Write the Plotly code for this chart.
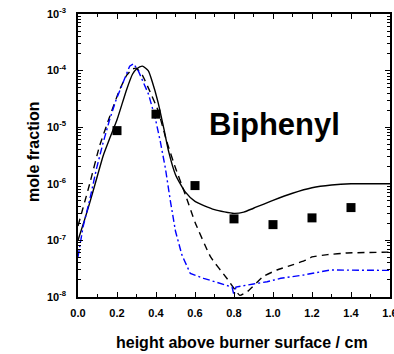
import plotly.graph_objects as go

# ---- data ----
solid_x = [0.00, 0.03, 0.06, 0.10, 0.13, 0.16, 0.20, 0.25, 0.28, 0.30, 0.33, 0.36, 0.38, 0.41, 0.44, 0.465,
           0.50, 0.55, 0.60, 0.70, 0.80, 0.85, 0.90, 1.00, 1.10, 1.20, 1.30, 1.40, 1.60]
solid_y = [1.0e-7, 2.1e-7, 4.6e-7, 1.4e-6, 3.2e-6, 6.0e-6, 1.35e-5, 4.7e-5, 8.7e-5, 1.07e-4, 1.2e-4, 1.0e-4,
           6.5e-5, 2.8e-5, 9.5e-6, 3.7e-6, 1.45e-6, 7.2e-7, 4.9e-7, 3.5e-7, 3.0e-7, 3.16e-7, 3.7e-7, 5.1e-7,
           6.8e-7, 8.5e-7, 9.5e-7, 1.0e-6, 1.0e-6]

dash_x = [0.00, 0.06, 0.11, 0.16, 0.21, 0.25, 0.28, 0.30, 0.33, 0.36, 0.41, 0.455, 0.50, 0.55, 0.60, 0.68,
          0.765, 0.83, 0.87, 0.95, 1.02, 1.10, 1.17, 1.20, 1.28, 1.38, 1.60]
dash_y = [1.8e-7, 1.0e-6, 4.6e-6, 1.45e-5, 4.3e-5, 8.3e-5, 1.07e-4, 1.1e-4, 8.3e-5, 5.0e-5, 2.0e-5, 5.6e-6,
          1.9e-6, 6.5e-7, 2.1e-7, 5.1e-8, 2.1e-8, 1.07e-8, 1.26e-8, 2.3e-8, 3.0e-8, 3.7e-8, 4.5e-8, 5.1e-8,
          5.6e-8, 6.0e-8, 6.2e-8]

blue_x = [0.00, 0.026, 0.06, 0.094, 0.128, 0.162, 0.196, 0.239, 0.265, 0.285, 0.31, 0.362, 0.396, 0.422,
          0.448, 0.474, 0.50, 0.533, 0.576, 0.644, 0.73, 0.79, 0.80, 0.81, 0.90, 0.97, 1.04, 1.157, 1.294,
          1.41, 1.60]
blue_y = [5.1e-8, 1.74e-7, 5.2e-7, 1.8e-6, 5.2e-6, 1.35e-5, 3.1e-5, 6.9e-5, 1.2e-4, 1.32e-4, 9.8e-5, 3.8e-5,
          1.45e-5, 5.6e-6, 1.9e-6, 4.9e-7, 1.45e-7, 5.5e-8, 2.6e-8, 2.14e-8, 1.74e-8, 1.5e-8, 1.07e-8,
          1.5e-8, 1.7e-8, 1.86e-8, 2.14e-8, 2.45e-8, 3.0e-8, 2.95e-8, 2.95e-8]

exp_x = [0.2, 0.4, 0.6, 0.8, 1.0, 1.2, 1.4]
exp_y = [8.7e-6, 1.7e-5, 9.3e-7, 2.4e-7, 1.9e-7, 2.5e-7, 3.8e-7]

x_ticks = [0.0, 0.2, 0.4, 0.6, 0.8, 1.0, 1.2, 1.4, 1.6]
x_ticktext = ["0.0", "0.2", "0.4", "0.6", "0.8", "1.0", "1.2", "1.4", "1.6"]
y_ticks = [1e-8, 1e-7, 1e-6, 1e-5, 1e-4, 1e-3]
y_ticktext = ["10<sup>-8</sup>", "10<sup>-7</sup>", "10<sup>-6</sup>", "10<sup>-5</sup>",
              "10<sup>-4</sup>", "10<sup>-3</sup>"]
y_minor = [m * 10.0 ** e for e in range(-8, -3) for m in range(2, 10)]

FONT = "Liberation Sans, Arial, sans-serif"

fig = go.Figure()
fig.add_trace(go.Scatter(x=solid_x, y=solid_y, mode="lines",
                         line=dict(color="black", width=1.4, shape="spline", smoothing=0.6)))
fig.add_trace(go.Scatter(x=dash_x, y=dash_y, mode="lines",
                         line=dict(color="black", width=1.4, dash="7px,5px", shape="spline", smoothing=0.4)))
fig.add_trace(go.Scatter(x=blue_x, y=blue_y, mode="lines",
                         line=dict(color="#0000ff", width=1.4, dash="7px,3px,2px,3px")))
fig.add_trace(go.Scatter(x=exp_x, y=exp_y, mode="markers",
                         marker=dict(symbol="square", size=9, color="black")))

pl, pr, pt, pb = 78, 390, 14, 297
pw, ph = pr - pl, pb - pt
def px_to_paper(px, py):
    return (px - pl) / pw, (pb - py) / ph

bx, by = px_to_paper(274, 124)
mx, my = px_to_paper(33, 152)
hx, hy = px_to_paper(242, 342)

fig.update_layout(
    width=394, height=354,
    margin=dict(l=pl, r=394 - pr, t=pt, b=354 - pb, autoexpand=False),
    plot_bgcolor="white", paper_bgcolor="white",
    showlegend=False,
    font=dict(family=FONT, color="black"),
    xaxis=dict(range=[0, 1.6], tickmode="array", tickvals=x_ticks, ticktext=x_ticktext,
               showline=True, linecolor="black", linewidth=1.5, mirror="ticks",
               ticks="inside", ticklen=5, tickwidth=1, tickcolor="black",
               showgrid=False, zeroline=False, automargin=False,
               tickfont=dict(size=11, weight="bold", family=FONT),
               ticklabelstandoff=5, ticklabeloverflow="allow",
               minor=dict(dtick=0.1, ticks="inside", ticklen=3, tickcolor="black", showgrid=False)),
    yaxis=dict(type="log", range=[-8, -3], tickmode="array", tickvals=y_ticks, ticktext=y_ticktext,
               showline=True, linecolor="black", linewidth=1.5, mirror="ticks",
               ticks="inside", ticklen=5, tickwidth=1, tickcolor="black",
               showgrid=False, zeroline=False, automargin=False,
               tickfont=dict(size=11, weight="bold", family=FONT),
               ticklabelstandoff=8,
               minor=dict(tickvals=y_minor, ticks="inside", ticklen=3, tickcolor="black", showgrid=False)),
    annotations=[
        dict(text="Biphenyl", x=bx, y=by, xref="paper", yref="paper", showarrow=False,
             font=dict(size=31, weight="bold", family=FONT), xanchor="center", yanchor="middle"),
        dict(text="mole fraction", x=mx, y=my, xref="paper", yref="paper", showarrow=False,
             font=dict(size=16, weight="bold", family=FONT), textangle=-90,
             xanchor="center", yanchor="middle"),
        dict(text="height above burner surface / cm", x=hx, y=hy, xref="paper", yref="paper",
             showarrow=False, font=dict(size=16, weight="bold", family=FONT),
             xanchor="center", yanchor="middle"),
    ],
)

fig.write_html("out.html")
